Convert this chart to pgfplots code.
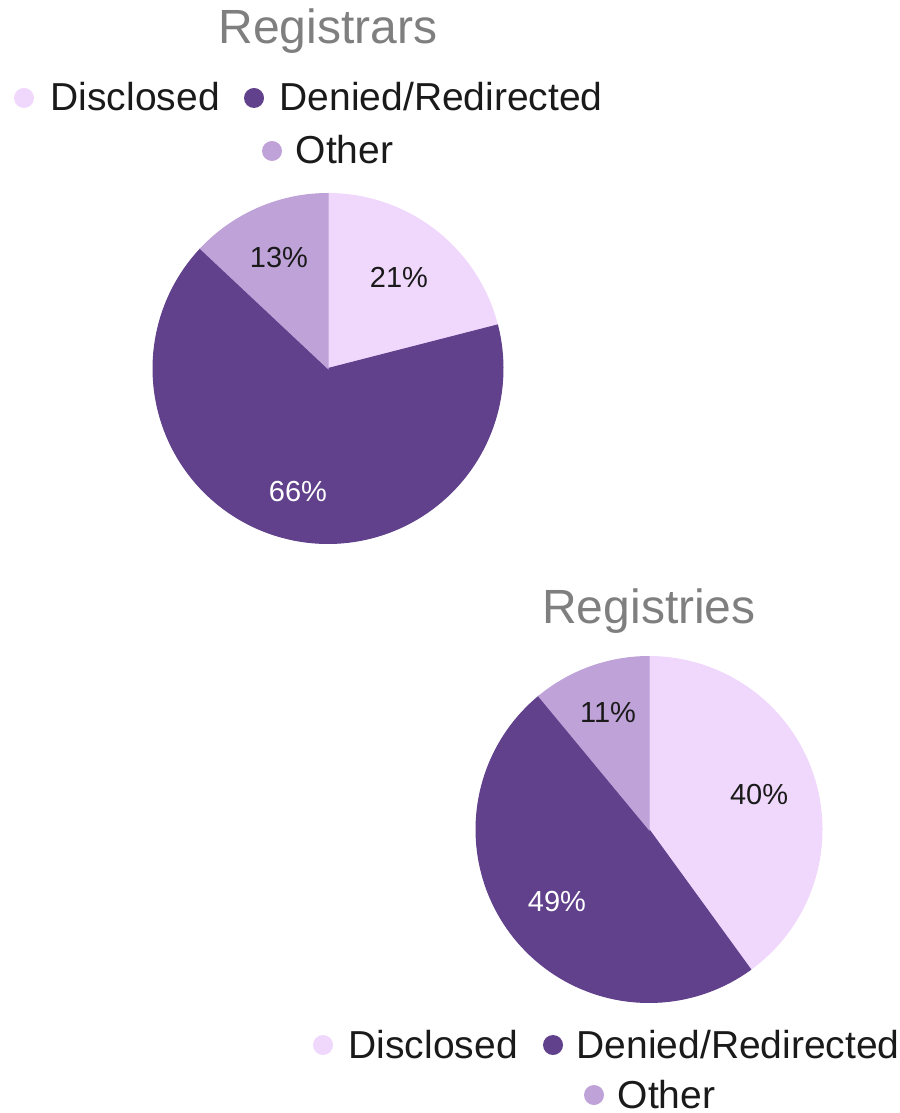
\documentclass[border=0pt]{standalone}
\usepackage{pgfplots}
\pgfplotsset{compat=1.18}
\usepackage{fontspec}
\setmainfont{Liberation Sans}
\definecolor{cDis}{RGB}{240,216,253}
\definecolor{cDen}{RGB}{97,65,140}
\definecolor{cOth}{RGB}{191,162,216}
\definecolor{ctitle}{RGB}{127,127,127}
\definecolor{ctext}{RGB}{26,26,26}
\tikzset{
  lbl/.style={font=\fontsize{8.7}{10}\selectfont},
  leg/.style={font=\fontsize{11.7}{14}\selectfont, text=ctext, anchor=base west, inner sep=0pt},
  mk/.style={circle, inner sep=0pt, minimum size=6pt},
  ttl/.style={font=\fontsize{14.4}{17}\selectfont, text=ctitle, anchor=base, inner sep=0pt},
}
\begin{document}
\begin{tikzpicture}
\begin{axis}[
  width=269.7pt, height=333.9pt, scale only axis,
  xmin=0, xmax=899, ymin=0, ymax=1113, y dir=reverse,
  hide axis, clip=false,
]
\path (axis cs:0,0) rectangle (axis cs:899,1113);
% ---------- Registrars: Disclosed 21, Denied/Redirected 66, Other 13 ----------
\addplot[fill=cDis, draw=cDis, line width=0.3pt, domain=0:21, samples=40, variable=\t]
  ({328+175*sin(3.6*\t)}, {368.5-175*cos(3.6*\t)}) -- (axis cs:328,368.5) -- cycle;
\addplot[fill=cDen, draw=cDen, line width=0.3pt, domain=21:87, samples=120, variable=\t]
  ({328+175*sin(3.6*\t)}, {368.5-175*cos(3.6*\t)}) -- (axis cs:328,368.5) -- cycle;
\addplot[fill=cOth, draw=cOth, line width=0.3pt, domain=87:100, samples=30, variable=\t]
  ({328+175*sin(3.6*\t)}, {368.5-175*cos(3.6*\t)}) -- (axis cs:328,368.5) -- cycle;
\node[lbl, text=ctext] at (axis cs:399,277) {21\%};
\node[lbl, text=white] at (axis cs:298,492) {66\%};
\node[lbl, text=ctext] at (axis cs:279,258) {13\%};
\node[ttl] at (axis cs:328,44) {Registrars};
\node[mk, fill=cDis] at (axis cs:24,98) {};
\node[leg] at (axis cs:50,111) {Disclosed};
\node[mk, fill=cDen] at (axis cs:254,98) {};
\node[leg] at (axis cs:279,111) {Denied/Redirected};
\node[mk, fill=cOth] at (axis cs:272,151) {};
\node[leg] at (axis cs:295,164) {Other};
% ---------- Registries: Disclosed 40, Denied/Redirected 49, Other 11 ----------
\addplot[fill=cDis, draw=cDis, line width=0.3pt, domain=0:40, samples=70, variable=\t]
  ({649+173*sin(3.6*\t)}, {829.5-173*cos(3.6*\t)}) -- (axis cs:649,829.5) -- cycle;
\addplot[fill=cDen, draw=cDen, line width=0.3pt, domain=40:89, samples=90, variable=\t]
  ({649+173*sin(3.6*\t)}, {829.5-173*cos(3.6*\t)}) -- (axis cs:649,829.5) -- cycle;
\addplot[fill=cOth, draw=cOth, line width=0.3pt, domain=89:100, samples=25, variable=\t]
  ({649+173*sin(3.6*\t)}, {829.5-173*cos(3.6*\t)}) -- (axis cs:649,829.5) -- cycle;
\node[lbl, text=ctext] at (axis cs:759,795) {40\%};
\node[lbl, text=white] at (axis cs:557,902) {49\%};
\node[lbl, text=ctext] at (axis cs:608,713) {11\%};
\node[ttl] at (axis cs:649,623) {Registries};
\node[mk, fill=cDis] at (axis cs:323,1045) {};
\node[leg] at (axis cs:348,1058) {Disclosed};
\node[mk, fill=cDen] at (axis cs:553,1045) {};
\node[leg] at (axis cs:576,1058) {Denied/Redirected};
\node[mk, fill=cOth] at (axis cs:594,1095) {};
\node[leg] at (axis cs:617,1108) {Other};
\end{axis}
\end{tikzpicture}
\end{document}
